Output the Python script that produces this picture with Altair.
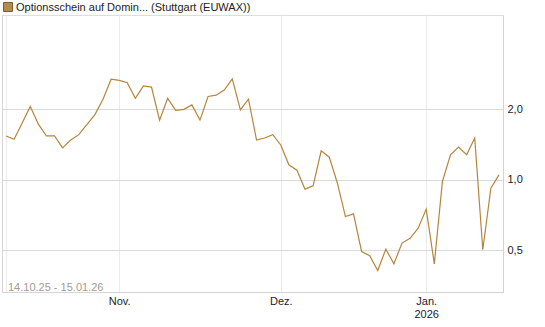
import altair as alt
import pandas as pd

# Trading days (Stuttgart) 14.10.25 - 15.01.26
dates = [
    "2025-10-14", "2025-10-15", "2025-10-16", "2025-10-17",
    "2025-10-20", "2025-10-21", "2025-10-22", "2025-10-23", "2025-10-24",
    "2025-10-27", "2025-10-28", "2025-10-29", "2025-10-30", "2025-10-31",
    "2025-11-03", "2025-11-04", "2025-11-05", "2025-11-06", "2025-11-07",
    "2025-11-10", "2025-11-11", "2025-11-12", "2025-11-13", "2025-11-14",
    "2025-11-17", "2025-11-18", "2025-11-19", "2025-11-20", "2025-11-21",
    "2025-11-24", "2025-11-25", "2025-11-26", "2025-11-27", "2025-11-28",
    "2025-12-01", "2025-12-02", "2025-12-03", "2025-12-04", "2025-12-05",
    "2025-12-08", "2025-12-09", "2025-12-10", "2025-12-11", "2025-12-12",
    "2025-12-15", "2025-12-16", "2025-12-17", "2025-12-18", "2025-12-19",
    "2025-12-22", "2025-12-23", "2025-12-30",
    "2026-01-02", "2026-01-05", "2026-01-06", "2026-01-07", "2026-01-08",
    "2026-01-09", "2026-01-12", "2026-01-13", "2026-01-14", "2026-01-15",
]
values = [
    1.54, 1.49, 1.75, 2.06, 1.73, 1.54, 1.54, 1.37, 1.48, 1.56,
    1.72, 1.90, 2.21, 2.69, 2.66, 2.60, 2.23, 2.52, 2.49, 1.80,
    2.23, 1.98, 2.00, 2.09, 1.80, 2.27, 2.30, 2.42, 2.70, 1.99,
    2.21, 1.48, 1.51, 1.56, 1.41, 1.16, 1.10, 0.913, 0.943, 1.33,
    1.25, 0.97, 0.697, 0.716, 0.494, 0.474, 0.410, 0.506, 0.438, 0.537,
    0.563, 0.622, 0.750, 0.438, 0.983, 1.28, 1.38, 1.28, 1.51, 0.503,
    0.921, 1.05,
]
tick_positions = [0, 14, 34, 52]
tick_labels = ["", "Nov.", "Dez.", ["Jan.", "2026"]]
y_ticks = [0.5, 1.0, 2.0]
series_name = "Optionsschein auf Domin... (Stuttgart (EUWAX))"
range_text = "14.10.25 - 15.01.26"

FONT = "Liberation Sans"
LINE_COLOR = "#b5853c"

df = pd.DataFrame({"i": list(range(len(values))), "date": dates, "value": values})

def lab(v):
    if isinstance(v, list):
        return "[" + ",".join("'" + s + "'" for s in v) + "]"
    return "'" + v + "'"

expr = "''"
for p, l in reversed(list(zip(tick_positions, tick_labels))):
    expr = f"datum.value == {p} ? {lab(l)} : ({expr})"

x = alt.X(
    "i:Q",
    scale=alt.Scale(domain=[-0.5, len(values) - 0.5], nice=False, zero=False),
    axis=alt.Axis(
        values=tick_positions, labelExpr=expr, title=None, ticks=False,
        grid=True, gridColor="#ebebeb", domain=True, domainColor="#d4d4d4",
        labelFont=FONT, labelFontSize=11, labelColor="#222", labelPadding=3,
        labelLineHeight=13, labelFlush=False, labelOverlap=False,
    ),
)
y = alt.Y(
    "value:Q",
    scale=alt.Scale(type="log", domain=[0.332, 5.06], nice=False, zero=False),
    axis=alt.Axis(
        orient="right", values=y_ticks, title=None, ticks=False,
        labelExpr="replace(format(datum.value, '.1f'), '.', ',')",
        grid=True, gridColor="#d9d9d9", domain=True, domainColor="#d4d4d4",
        labelFont=FONT, labelFontSize=11, labelColor="#222", labelPadding=4,
    ),
)

line = alt.Chart(df).mark_line(color=LINE_COLOR, strokeWidth=1.2).encode(x=x, y=y)

left_border = alt.Chart(df).mark_rule(color="#d4d4d4").encode(
    x=alt.value(0.5), y=alt.value(0), y2=alt.value(277)
)

tdf = pd.DataFrame({"t": [series_name]})
swatch = alt.Chart(tdf).mark_rect(fill="#b58a4e", stroke="#7d5c2c", strokeWidth=1).encode(
    x=alt.value(1.5), x2=alt.value(10.5), y=alt.value(-12.5), y2=alt.value(-3.5)
)
title = alt.Chart(tdf).mark_text(
    align="left", baseline="alphabetic", font=FONT, fontSize=11, color="#222"
).encode(x=alt.value(14), y=alt.value(-4), text="t:N")

rdf = pd.DataFrame({"t": [range_text]})
rng = alt.Chart(rdf).mark_text(
    align="left", baseline="alphabetic", font=FONT, fontSize=11, color="#a39b92"
).encode(x=alt.value(6), y=alt.value(276), text="t:N")

chart = alt.layer(left_border, line, swatch, title, rng).properties(
    width=501, height=277,
    autosize=alt.AutoSizeParams(type="none"),
    padding={"left": 2, "top": 15, "right": 42, "bottom": 35},
).configure_view(strokeWidth=0).configure(background="white")

chart.save("out.html", embed_options={"renderer": "svg", "actions": False})
